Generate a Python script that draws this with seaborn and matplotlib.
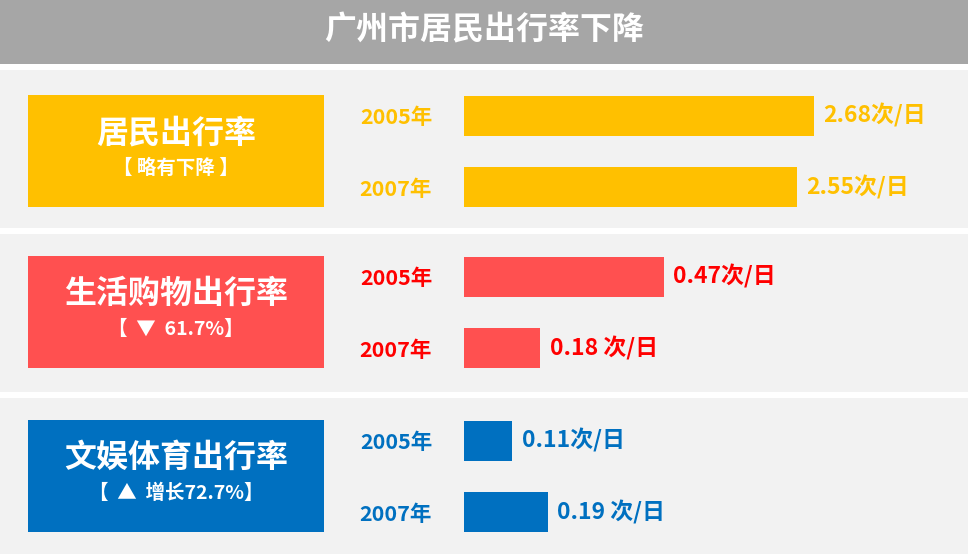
import matplotlib
matplotlib.use('Agg')
import matplotlib.pyplot as plt
import seaborn as sns
import pandas as pd
from matplotlib.patches import Rectangle

# data
years = ['2005年', '2007年']
travel_rate = [2.68, 2.55]
shopping_rate = [0.47, 0.18]
leisure_rate = [0.11, 0.19]
travel_labels = ['2.68次/日', '2.55次/日']
shopping_labels = ['0.47次/日', '0.18 次/日']
leisure_labels = ['0.11次/日', '0.19 次/日']
chart_title = '广州市居民出行率下降'

sns.set_theme(style='white')
plt.rcParams['font.family'] = ['Noto Sans CJK SC', 'DejaVu Sans']

W, H = 968, 554
fig = plt.figure(figsize=(W / 100, H / 100), dpi=100)
fig.patch.set_facecolor('white')

# background layer in pixel coords
bg = fig.add_axes([0, 0, 1, 1])
bg.set_xlim(0, W)
bg.set_ylim(H, 0)
bg.axis('off')

bg.add_patch(Rectangle((0, 0), W, 64, color='#a6a6a6', lw=0))
bg.text(W / 2, 30, chart_title, ha='center', va='center', color='white',
        fontsize=23, fontweight='bold')

panels = [
    dict(name='居民出行率', sub='【 略有下降 】', values=travel_rate, labels=travel_labels,
         box='#FFC000', text='#FFC000', top=70, bottom=228, bar_top=96, xmax=3.86),
    dict(name='生活购物出行率', sub='【  ▼  61.7%】', values=shopping_rate, labels=shopping_labels,
         box='#FF5050', text='#FF0000', top=234, bottom=392, bar_top=257, xmax=1.186),
    dict(name='文娱体育出行率', sub='【  ▲  增长72.7%】', values=leisure_rate, labels=leisure_labels,
         box='#0070C0', text='#0070C0', top=398, bottom=554, bar_top=421, xmax=1.145),
]

for p in panels:
    bg.add_patch(Rectangle((0, p['top']), W, p['bottom'] - p['top'], color='#f2f2f2', lw=0))
    box_top = p['bar_top'] - 1
    bg.add_patch(Rectangle((28, box_top), 296, 112, color=p['box'], lw=0))
    cy = box_top + 56
    bg.text(176, cy - 18, p['name'], ha='center', va='center', color='white',
            fontsize=23, fontweight='bold')
    bg.text(176, cy + 17, p['sub'], ha='center', va='center', color='white',
            fontsize=14, fontweight='bold')

    bar_bottom = p['bar_top'] + 111
    ax = fig.add_axes([464 / W, 1 - bar_bottom / H, (W - 464) / W, 111 / H])
    df = pd.DataFrame({'year': years, 'rate': p['values']})
    sns.barplot(data=df, x='rate', y='year', ax=ax, color=p['box'], width=0.56,
                saturation=1, errorbar=None, orient='h', linewidth=0)
    ax.set_xlim(0, p['xmax'])
    ax.set_ylim(1.28, -0.28)
    ax.patch.set_alpha(0)
    for s in ax.spines.values():
        s.set_visible(False)
    ax.set_xticks([])
    ax.set_xlabel('')
    ax.set_ylabel('')
    ax.tick_params(axis='y', length=0, pad=23, labelcolor=p['text'], labelsize=15.5)
    for t in ax.get_yticklabels():
        t.set_fontweight('bold')
    ax.bar_label(ax.containers[0], labels=p['labels'], padding=7, color=p['text'],
                 fontsize=16.5, fontweight='bold')

fig.savefig('out.png', dpi=100)
